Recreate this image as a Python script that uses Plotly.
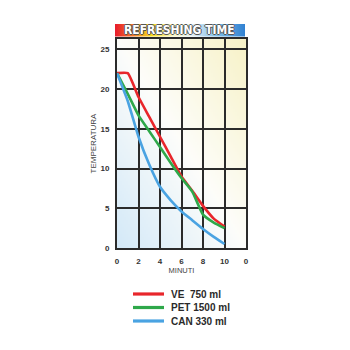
import base64
import struct
import zlib

import plotly.graph_objects as go

# ---- data -------------------------------------------------------------
minutes = [0, 1, 2, 3, 4, 5, 6, 7, 8, 9, 10]
series_names = ["VE  750 ml", "PET 1500 ml", "CAN 330 ml"]
series_colors = ["#e8262b", "#2ea84a", "#4aa3e2"]
temp_ve = [22.0, 22.0, 19.0, 16.5, 14.0, 11.5, 9.0, 7.2, 5.3, 3.7, 2.7]
temp_pet = [22.0, 19.4, 16.7, 14.7, 12.7, 10.7, 8.8, 7.1, 4.2, 3.2, 2.5]
temp_can = [22.0, 18.5, 14.0, 10.5, 7.7, 6.0, 4.6, 3.5, 2.4, 1.4, 0.5]
x_tick_vals = [0, 2, 4, 6, 8, 10, 12]
x_tick_text = ["0", "2", "4", "6", "8", "10", "0"]
y_tick_vals = [0, 5, 10, 15, 20, 25]
title_text = "REFRESHING TIME"

# ---- small PNG helper for gradient fills -----------------------------
def png_uri(w, h, color_at):
    rows = []
    for j in range(h):
        row = bytearray([0])
        for i in range(w):
            row.extend(color_at(i / (w - 1), j / (h - 1)))
        rows.append(bytes(row))
    raw = b"".join(rows)

    def chunk(tag, data):
        c = struct.pack(">I", len(data)) + tag + data
        return c + struct.pack(">I", zlib.crc32(tag + data) & 0xFFFFFFFF)

    png = b"\x89PNG\r\n\x1a\n"
    png += chunk(b"IHDR", struct.pack(">IIBBBBB", w, h, 8, 2, 0, 0, 0))
    png += chunk(b"IDAT", zlib.compress(raw, 9))
    png += chunk(b"IEND", b"")
    return "data:image/png;base64," + base64.b64encode(png).decode()


def lerp_stops(stops, t):
    t = max(0.0, min(1.0, t))
    for (t0, c0), (t1, c1) in zip(stops, stops[1:]):
        if t <= t1:
            f = (t - t0) / (t1 - t0) if t1 > t0 else 0
            return [int(round(a + (b - a) * f)) for a, b in zip(c0, c1)]
    return list(stops[-1][1])


plot_stops = [
    (0.0, (212, 233, 248)),
    (0.5, (253, 253, 250)),
    (1.0, (247, 242, 200)),
]


def plot_bg(u, v):
    # u: left->right, v: top->bottom
    t = (u + (1 - v)) / 2
    return lerp_stops(plot_stops, t)


bar_stops = [
    (0.0, (232, 30, 45)),
    (0.12, (240, 110, 40)),
    (0.28, (248, 220, 30)),
    (0.45, (250, 248, 200)),
    (0.6, (225, 238, 245)),
    (0.8, (120, 185, 230)),
    (1.0, (50, 130, 210)),
]


def bar_bg(u, v):
    return lerp_stops(bar_stops, u)


plot_img = png_uri(64, 64, plot_bg)
bar_img = png_uri(128, 2, bar_bg)

# ---- figure -----------------------------------------------------------
fig = go.Figure()
for name, color, temps in zip(series_names, series_colors,
                              [temp_ve, temp_pet, temp_can]):
    fig.add_trace(go.Scatter(
        x=minutes, y=temps, name=name, mode="lines",
        line=dict(color=color, width=2.6, shape="spline", smoothing=0.4),
        showlegend=False,
    ))

ml, mr, mt, mb = 117, 104, 39, 102
W = H = 350
pw = W - ml - mr
ph = H - mt - mb


def px_to_paper_x(px):
    return (px - ml) / pw


def px_to_paper_y(py):
    return (H - mb - py) / ph


images = [
    dict(source=plot_img, xref="x", yref="y", x=0, y=26.3, sizex=12,
         sizey=26.3, sizing="stretch", layer="below", xanchor="left",
         yanchor="top"),
    dict(source=bar_img, xref="paper", yref="paper",
         x=px_to_paper_x(115), y=px_to_paper_y(24),
         sizex=(245 - 115) / pw, sizey=(36.5 - 24) / ph,
         sizing="stretch", layer="above", xanchor="left", yanchor="top"),
]

annotations = [
    dict(text="<b>" + title_text + "</b>", xref="paper", yref="paper",
         x=px_to_paper_x(179), y=px_to_paper_y(30.5), showarrow=False,
         xanchor="center", yanchor="middle",
         font=dict(family="Liberation Sans Narrow, DejaVu Sans Condensed, Liberation Sans",
                   size=12, color="white",
                   shadow="-1px 0 #555, 1px 0 #555, 0 -1px #555, 0 1px #555")),
]

# legend drawn beneath the chart
shapes = []
legend_rows = [294, 307.5, 321]
for name, color, ry in zip(series_names, series_colors, legend_rows):
    shapes.append(dict(type="line", xref="paper", yref="paper",
                       x0=px_to_paper_x(133), x1=px_to_paper_x(164),
                       y0=px_to_paper_y(ry), y1=px_to_paper_y(ry),
                       line=dict(color=color, width=3.2)))
    annotations.append(dict(
        text="<b>" + name.replace("  ", "&nbsp; ") + "</b>",
        xref="paper", yref="paper",
        x=px_to_paper_x(169), y=px_to_paper_y(ry), showarrow=False,
        xanchor="left", yanchor="middle",
        font=dict(family="Liberation Sans", size=10, color="#2a2a2a")))

fig.update_layout(
    width=W, height=H,
    margin=dict(l=ml, r=mr, t=mt, b=mb),
    paper_bgcolor="white",
    plot_bgcolor="rgba(0,0,0,0)",
    images=images,
    shapes=shapes,
    annotations=annotations,
    font=dict(family="Liberation Sans", color="#333"),
)

fig.update_xaxes(
    range=[0, 12], tickvals=x_tick_vals, ticktext=x_tick_text,
    showgrid=True, gridcolor="#2b2b2b", gridwidth=1.6,
    showline=True, linecolor="#2b2b2b", linewidth=2, mirror=True,
    zeroline=False, ticks="", ticklabelstandoff=4,
    tickfont=dict(size=8, color="#333", weight="bold"),
    title=dict(text="MINUTI", font=dict(size=7.5, color="#444"), standoff=2),
)
fig.update_yaxes(
    range=[0, 26.3], tickvals=y_tick_vals,
    showgrid=True, gridcolor="#2b2b2b", gridwidth=1.6,
    showline=True, linecolor="#2b2b2b", linewidth=2, mirror=True,
    zeroline=False, ticks="", ticklabelstandoff=4,
    tickfont=dict(size=8, color="#333", weight="bold"),
    title=dict(text="TEMPERATURA", font=dict(size=8, color="#444"), standoff=3),
)

fig.write_html("out.html")
